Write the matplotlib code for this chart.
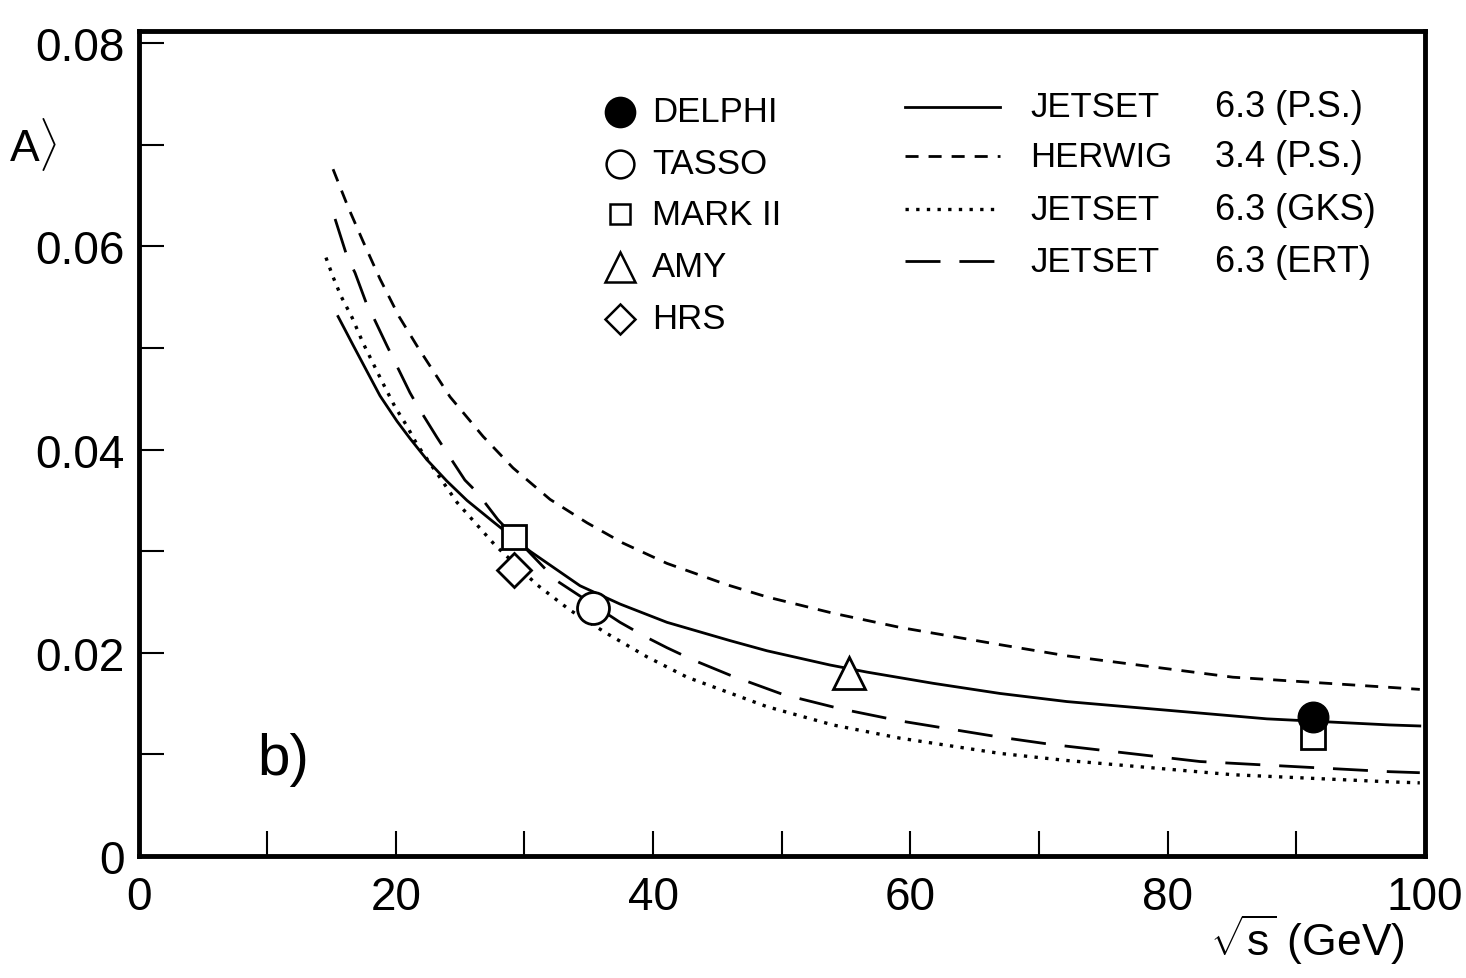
import matplotlib
matplotlib.use('Agg')
import matplotlib.pyplot as plt

plt.rcParams['font.family'] = ['Liberation Sans', 'DejaVu Sans']
plt.rcParams['mathtext.fontset'] = 'custom'
plt.rcParams['mathtext.rm'] = 'Liberation Sans'
plt.rcParams['mathtext.it'] = 'Liberation Sans'
plt.rcParams['mathtext.bf'] = 'Liberation Sans'

# model curves
jetset_ps_x = [15.51, 16.05, 16.67, 17.76, 18.77, 20.09, 21.10, 22.42, 23.97, 25.53, 27.47, 30.43,
               34.32, 37.43, 41.08, 45.98, 48.85, 53.75, 56.63, 61.76, 66.96, 72.17, 87.72, 97.27, 99.6]
jetset_ps_y = [0.0531, 0.0518, 0.0503, 0.0477, 0.0453, 0.0428, 0.0411, 0.0390, 0.0369, 0.0350, 0.0330, 0.0300,
               0.0266, 0.0248, 0.0230, 0.0212, 0.0202, 0.0188, 0.0181, 0.0170, 0.0160, 0.0152, 0.0135, 0.0129, 0.0128]

herwig_x = [15.12, 16.28, 17.45, 18.77, 20.25, 21.65, 24.21, 26.78, 29.11, 31.99, 34.86, 37.66, 41.08,
            45.74, 48.85, 53.98, 59.19, 66.96, 72.17, 85.07, 97.27, 99.6]
herwig_y = [0.0676, 0.0639, 0.0605, 0.0568, 0.0531, 0.0502, 0.0452, 0.0413, 0.0382, 0.0351, 0.0328, 0.0308, 0.0288,
            0.0267, 0.0255, 0.0239, 0.0225, 0.0208, 0.0197, 0.0176, 0.0166, 0.0164]

gks_x = [14.57, 15.12, 15.74, 16.60, 17.45, 18.15, 18.93, 19.94, 20.87, 21.65, 24.76, 27.71, 30.97,
         33.54, 36.41, 39.53, 42.64, 48.85, 53.98, 59.19, 66.96, 72.17, 85.07, 97.27, 99.6]
gks_y = [0.0589, 0.0570, 0.0551, 0.0530, 0.0505, 0.0487, 0.0467, 0.0442, 0.0423, 0.0405, 0.0348, 0.0306, 0.0267,
         0.0242, 0.0219, 0.0196, 0.0176, 0.0147, 0.0129, 0.0116, 0.0101, 0.0094, 0.0080, 0.0073, 0.0072]

ert_x = [15.28, 16.21, 16.83, 17.68, 18.23, 19.32, 19.94, 21.10, 21.73, 23.20, 23.97, 25.37, 26.31, 27.94,
         32.5, 37.43, 39.53, 41.08, 43.10, 45.98, 50.10, 54.53, 59.19, 66.96, 70.85, 82.51, 97.27, 99.6]
ert_y = [0.0627, 0.0590, 0.0574, 0.0545, 0.0531, 0.0502, 0.0486, 0.0456, 0.0442, 0.0412, 0.0397, 0.0370, 0.0358, 0.0331,
         0.0271, 0.0230, 0.0215, 0.0205, 0.0193, 0.0178, 0.0159, 0.0145, 0.0133, 0.0117, 0.0110, 0.0093, 0.0083, 0.0082]

# measurements
delphi_x, delphi_y = [91.3], [0.0137]
tasso_x, tasso_y = [35.3], [0.0244]
mark2_x, mark2_y = [29.2, 91.3], [0.0314, 0.0117]
amy_x, amy_y = [55.2], [0.0180]
hrs_x, hrs_y = [29.2], [0.0282]

fig = plt.figure(figsize=(14.66, 9.79), dpi=100)
ax = fig.add_axes([0.0945, 0.1246, 0.8775, 0.8427])

lw = 2.0
solid_ls = '-'
herwig_ls = (0, (4.7, 3.6))
gks_ls = (0, (1, 2.2))
ert_ls = (0, (12.6, 6.8))

ax.plot(jetset_ps_x, jetset_ps_y, color='black', lw=lw, linestyle=solid_ls)
ax.plot(herwig_x, herwig_y, color='black', lw=lw, linestyle=herwig_ls, dash_capstyle='butt')
ax.plot(gks_x, gks_y, color='black', lw=2.4, linestyle=gks_ls, dash_capstyle='butt')
ax.plot(ert_x, ert_y, color='black', lw=lw, linestyle=ert_ls, dash_capstyle='butt')

mk = dict(color='black', markerfacecolor='white', markeredgewidth=2, linestyle='none', zorder=5)
ax.plot(tasso_x, tasso_y, marker='o', markersize=23, **mk)
ax.plot(mark2_x, mark2_y, marker='s', markersize=17, **mk)
ax.plot(amy_x, amy_y, marker='^', markersize=23, **mk)
ax.plot(hrs_x, hrs_y, marker='D', markersize=17, **mk)
ax.plot(delphi_x, delphi_y, marker='o', markersize=22, color='black', linestyle='none', zorder=6)

ax.set_xlim(0, 100)
ax.set_ylim(0, 0.0812)
ax.set_xticks([0, 20, 40, 60, 80, 100])
ax.set_xticklabels(['0', '20', '40', '60', '80', '100'])
ax.set_xticks([10, 30, 50, 70, 90], minor=True)
ax.set_yticks([0, 0.02, 0.04, 0.06, 0.08])
ax.set_yticklabels(['0', '0.02', '0.04', '0.06', '0.08'])
ax.set_yticks([0.01, 0.03, 0.05, 0.07], minor=True)
ax.tick_params(which='both', direction='in', length=18, width=1.5, labelsize=33,
               top=False, right=False)
ax.tick_params(axis='x', which='major', pad=14)
ax.tick_params(axis='y', which='major', pad=10)
for s in ax.spines.values():
    s.set_linewidth(3.5)

# legend: experiments
exp_rows = [0.902, 0.839, 0.778, 0.714, 0.651]
exp_names = ['DELPHI', 'TASSO', 'MARK II', 'AMY', 'HRS']
exp_markers = ['o', 'o', 's', '^', 'D']
exp_sizes = [21, 20, 15, 21, 15]
for yy, name, m, ms in zip(exp_rows, exp_names, exp_markers, exp_sizes):
    fc = 'black' if name == 'DELPHI' else 'white'
    ax.plot([0.374], [yy], marker=m, markersize=ms, color='black', markerfacecolor=fc,
            markeredgewidth=1.8, transform=ax.transAxes, clip_on=False)
    ax.text(0.399, yy, name, transform=ax.transAxes, fontsize=25, va='center', ha='left')

# legend: models
mod_rows = [0.908, 0.848, 0.784, 0.721]
mod_names = ['JETSET', 'HERWIG', 'JETSET', 'JETSET']
mod_versions = ['6.3 (P.S.)', '3.4 (P.S.)', '6.3 (GKS)', '6.3 (ERT)']
mod_styles = [solid_ls, herwig_ls, gks_ls, ert_ls]
mod_lws = [lw, lw, 2.4, lw]
for yy, name, ver, st, w in zip(mod_rows, mod_names, mod_versions, mod_styles, mod_lws):
    ax.plot([0.596, 0.670], [yy, yy], color='black', lw=w, linestyle=st,
            dash_capstyle='butt', transform=ax.transAxes)
    ax.text(0.693, yy, name, transform=ax.transAxes, fontsize=25, va='center', ha='left')
    ax.text(0.837, yy, ver, transform=ax.transAxes, fontsize=26, va='center', ha='left')

ax.text(0.092, 0.118, 'b)', transform=ax.transAxes, fontsize=42, va='center', ha='left')

fig.text(0.006, 1 - 145 / 979, r'A$\rangle$', fontsize=32, va='center', ha='left')
fig.text(0.958, 1 - 940 / 979, r'$\sqrt{s}$ (GeV)', fontsize=32, va='center', ha='right')

fig.savefig('out.png', dpi=100)
